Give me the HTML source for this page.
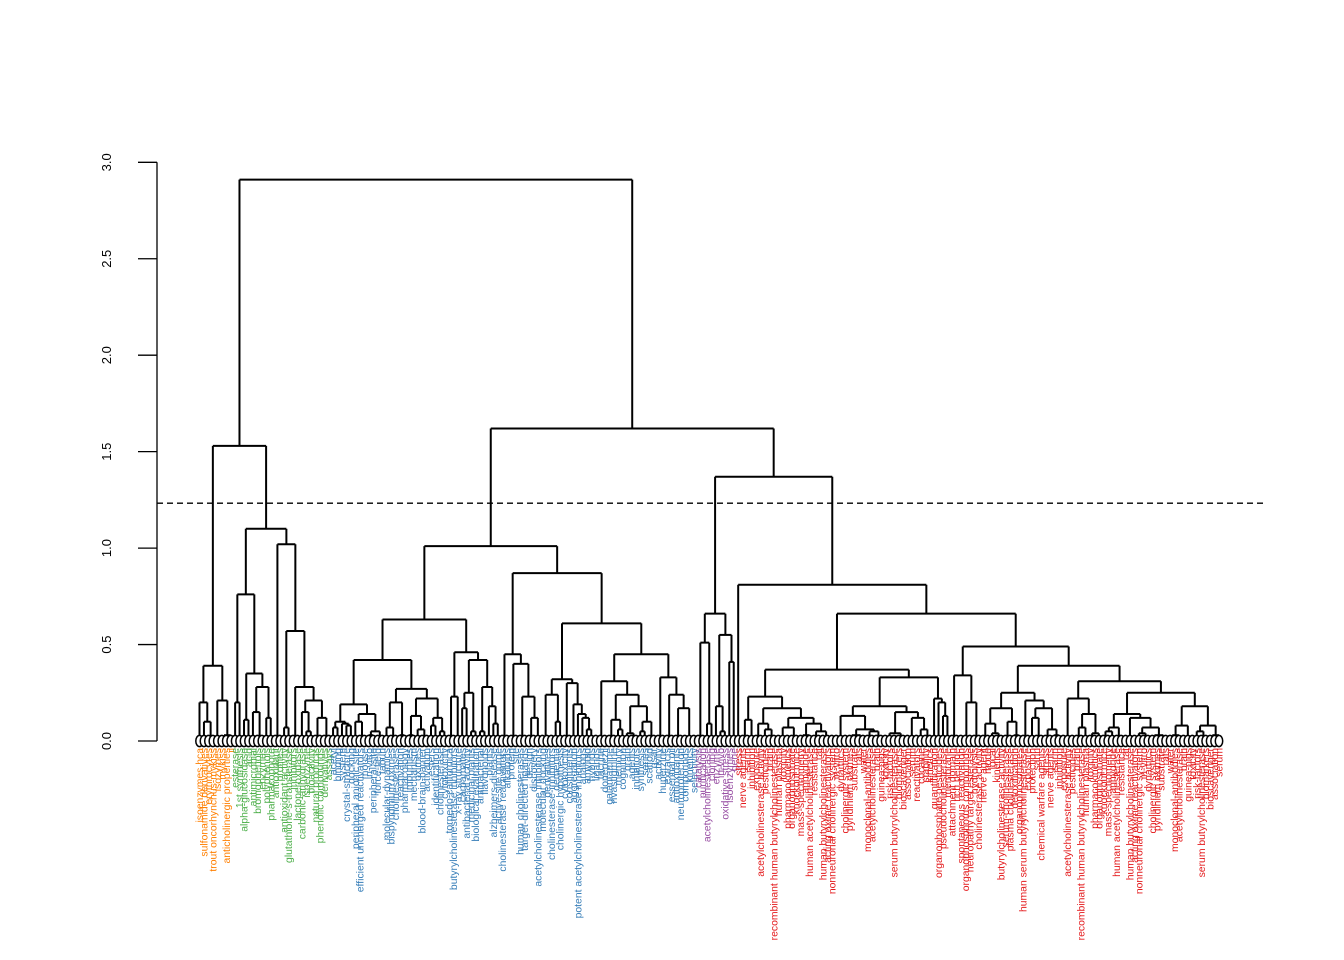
<!DOCTYPE html>
<html><head><meta charset="utf-8">
<style>
html,body{margin:0;padding:0;background:#fff;}
svg{display:block;}
text{font-family:"Liberation Sans",sans-serif;}
</style></head>
<body>
<svg id="chart" width="1344" height="960" viewBox="0 0 1344 960" xmlns="http://www.w3.org/2000/svg"></svg>
<script>
// ---- data: merge heights (nested [height, left, right]); numbers = count of leaves merged near 0 ----
const orangeTree = [0.39,[0.20,1,[0.10,1,2]],[0.21,1,[0.03,2,1]]];
const greenTree = [1.10,
  [0.76,[0.20,1,1],[0.35,[0.11,1,1],[0.28,[0.15,1,2],[0.12,1,1]]]],
  [1.02,2,[0.57,[0.07,1,1],[0.28,2,[0.21,[0.15,1,[0.05,1,1]],[0.12,[0.02,1,1],2]]]]]];
const blueTree = [1.01,
  [0.63,
    [0.42,
      [0.19,[0.10,[0.07,1,1],[0.09,1,[0.08,1,1]]],[0.14,[0.10,1,2],[0.05,[0.03,1,1],2]]],
      [0.27,[0.20,[0.07,1,2],[0.03,1,1]],[0.22,[0.13,[0.03,1,1],[0.06,1,2]],[0.12,[0.08,1,1],[0.05,1,1]]]]],
    [0.46,[0.23,2,1],[0.42,[0.25,[0.17,1,1],[0.05,1,1]],[0.28,[0.05,1,1],[0.18,1,[0.09,1,1]]]]]],
  [0.87,
    [0.45,2,[0.40,2,[0.23,2,[0.12,2,1]]]],
    [0.61,
      [0.32,[0.24,[0.02,1,2],[0.10,1,1]],[0.30,2,[0.19,1,[0.14,1,[0.12,1,[0.06,1,1]]]]]],
      [0.45,
        [0.31,[0.02,2,1],[0.24,[0.11,2,[0.06,1,1]],[0.18,[0.04,1,2],[0.10,[0.05,1,1],2]]]],
        [0.33,2,[0.24,2,[0.17,[0.02,1,1],3]]]]]]];
const purpleTree = [0.66,[0.51,2,[0.09,1,1]],[0.55,[0.18,1,[0.05,1,1]],[0.41,1,1]]];
const redTree = [0.81,1,
  [0.66,
    [0.37,
      [0.23,[0.11,2,1],[0.17,[0.09,2,[0.06,1,2]],[0.12,[0.07,3,2],[0.09,[0.03,2,1],[0.05,2,[0.02,1,2]]]]]],
      [0.33,
        [0.18,[0.13,3,[0.06,[0.03,2,2],[0.05,2,2]]],[0.15,[0.04,3,2],[0.12,3,[0.06,1,2]]]],
        [0.22,1,[0.20,1,[0.13,1,1]]]]],
    [0.49,
      [0.34,2,[0.20,[0.02,2,1],2]],
      [0.39,
        [0.25,[0.17,[0.09,2,[0.04,1,2]],[0.10,2,[0.03,1,1]]],[0.21,2,[0.17,[0.12,1,2],[0.06,2,[0.03,1,1]]]]],
        [0.31,
          [0.22,3,[0.14,[0.07,2,1],[0.04,2,1]]],
          [0.25,
            [0.14,[0.07,[0.05,2,1],2],[0.12,3,[0.07,[0.04,1,2],[0.03,2,2]]]],
            [0.18,[0.08,[0.03,2,1],3],[0.08,[0.05,1,2],[0.03,[0.02,1,1],1]]]]]]]]];
const rootHeights = [2.91, 1.53, 1.62, 1.37];
const cutHeight = 1.233;
const yTicks = [0, 0.5, 1, 1.5, 2, 2.5, 3];
const yTickLabels = ["0.0","0.5","1.0","1.5","2.0","2.5","3.0"];
const groupColors = ["#FF7F00","#4DAF4A","#377EB8","#984EA3","#E41A1C"];
const orangeLabels = ["isoenzymes hca","sulfonamide derivatives","erythrocytes","trout oncorhynchus-mykiss","isozymes","mykiss","anticholinergic properties","ii"];
const greenLabels = ["esterase","1st synthesis","alpha-glucosidase","acid","antimicrobial","bromophenols","enzymes","polyphenols","pharmacophore","antioxidant","profiles","antioxidant activity","glutathione-s-transferase","inhibitors","lactoperoxidase","carbonic-anhydrase","isoenzyme","bioactivity","natural products","phenolic compounds","derivatives","assays"];
const blueLabels = ["acetyl","binding","system","crystal-structure","docking","peripheral anionic site","efficient uncharged reactivators","mouse","in-vitro","peripheral site","force-field","tabun","molecular-dynamics","bispyridinium oximes","cholinesterases","reactivation","pharmacology","impurities","mechanism","oximes","blood-brain-barrier","activation","esters","identification","cholinesterase","cytotoxicity","torpedo-californica","butyrylcholinesterase inhibitors","x-ray structure","carbamates","antibacterial activity","medicinal plants","biological evaluation","antibacterial","flavonoids","plants","alzheimers-disease","active-site gorge","cholinesterase reactivators","alkaloids","protein","site","human cholinesterases","target-directed ligands","design","discovery","acetylcholinesterase inhibitors","molecular docking","derivatives","cholinesterase-inhibitors","dementia","cholinergic hypothesis","cytotoxicity","constituents","aggregation","potent acetylcholinesterase inhibitors","analogs","amyloid","hybrids","ligands","tacrine","donepezil","galantamine","rivastigmine","memory","cognition","brain","agents","inhibitors","synthesis","series","scaffold","qsar","activity","huperzine","extracts","essential oil","antioxidants","neuroprotection","compounds","kinetics","selectivity","beta"];
const purpleLabels = ["catalysis","purification","acetylcholinesterase","cloning","enzyme","in-vivo","oxidative stress","isoenzymes","gene"];
const redLabels = ["stress","nerve agents","sarin","inhibition","exposure","acetylcholinesterase activity","pesticides","brain","recombinant human butyrylcholinesterase","human plasma","toxicity","pharmacokinetics","organophosphate","knockout mice","mass-spectrometry","anhydride","human acetylcholinesterase","resistance","rat","human butyrylcholinesterase","acting oxime reactivators","nonneuronal cholinergic system","in-vitro","dynamics","cholinergic system","pyridinium oximes","substrate","rats","water","monoclonal-antibodies","acetylcholinesterase","brain","guinea-pigs","toxicity","risk-factors","serum butyrylcholinesterase","biomarkers","bioscavenger","association","serum","reactivators","cocaine","stability","kinetics","quantification","organophosphate pesticides","pseudocholinesterase","membrane","attachment domain","rich peptide","spontaneous reactivation","organophosphorus compounds","neuropathy target esterase","hydrolysis","cholinesterase activity","nerve agent","mode","local","kinetics","butyrylcholinesterase activity","serum-cholinesterase","plasma cholinesterase","detoxification","organophosphates","human serum butyrylcholinesterase","exposure","protection","sarin","chemical warfare agents"];

// ---- layout ----
const svgEl = document.getElementById('chart');
const NS = "http://www.w3.org/2000/svg";
const X0 = 199.5, X1 = 1219, Y0 = 741, PXU = 192.9;
const yScale = h => Y0 - h * PXU;
function mk(tag, attrs, parent){ const e=document.createElementNS(NS,tag); for(const k in attrs) e.setAttribute(k,attrs[k]); (parent||svgEl).appendChild(e); return e; }

const groupTrees = [orangeTree, greenTree, blueTree, purpleTree, redTree];
const groupLabels = [orangeLabels, greenLabels, blueLabels, purpleLabels, redLabels];
function countLeaves(t){ return typeof t==='number'? t : countLeaves(t[1])+countLeaves(t[2]); }
const counts = groupTrees.map(countLeaves);
const nLeaves = counts.reduce((a,b)=>a+b,0);
const step = (X1-X0)/(nLeaves-1);
const xScale = i => X0 + i*step;

const gTree = mk('g',{});


const leafList = [];
let leafIdx = 0, curGroup = 0, curLocal = 0;
function seg(x1,y1,x2,y2){
  const l = mk('line',{x1:x1,y1:y1,x2:x2,y2:y2,stroke:'#000','stroke-width':2}, gTree);
  
  
}
function layoutNode(t){
  if (typeof t==='number'){
    const xs=[];
    for(let k=0;k<t;k++){ xs.push(xScale(leafIdx)); leafList.push({x:xScale(leafIdx),g:curGroup,loc:curLocal}); leafIdx++; curLocal++; }
    const cx = xs.reduce((a,b)=>a+b,0)/xs.length;
    if (t>1){ const yy=yScale(0.01); seg(xs[0],yy,xs[xs.length-1],yy); xs.forEach(x=>seg(x,yy,x,Y0)); }
    return {x:cx, h: t>1?0.01:0};
  }
  const a = layoutNode(t[1]), b = layoutNode(t[2]);
  const y = yScale(t[0]);
  seg(a.x,yScale(a.h),a.x,y); seg(b.x,yScale(b.h),b.x,y); seg(a.x,y,b.x,y);
  return {x:(a.x+b.x)/2, h:t[0]};
}
function layoutGroup(gi){ curGroup=gi; curLocal=0; return layoutNode(groupTrees[gi]); }
function joinNodes(h,a,b){ const y=yScale(h); seg(a.x,yScale(a.h),a.x,y); seg(b.x,yScale(b.h),b.x,y); seg(a.x,y,b.x,y); return {x:(a.x+b.x)/2,h:h}; }
const nOrange = layoutGroup(0), nGreen = layoutGroup(1), nBlue = layoutGroup(2), nPurple = layoutGroup(3), nRed = layoutGroup(4);
const nLeftTop = joinNodes(rootHeights[1], nOrange, nGreen);
const nPurpleRed = joinNodes(rootHeights[3], nPurple, nRed);
const nRightTop = joinNodes(rootHeights[2], nBlue, nPurpleRed);
const nRoot = joinNodes(rootHeights[0], nLeftTop, nRightTop);

// leaf circles
const gC = mk('g',{});


leafList.forEach(l=>{
  const c = mk('ellipse',{cx:l.x,cy:Y0,rx:3.7,ry:5.6,fill:'#fff',stroke:'#000','stroke-width':1.5},gC);
  
  
});
// leaf labels
const gL = mk('g',{});


leafList.forEach(l=>{
  const arr = groupLabels[l.g];
  const tx = l.x+3.6, ty = 748;
  const t = mk('text',{x:tx,y:ty,transform:'rotate(-90 '+tx+' '+ty+')','text-anchor':'end','font-size':10.4,fill:groupColors[l.g]},gL);
  t.textContent = arr[l.loc % arr.length];
  
  
});

// y axis
const gA = mk('g',{});


mk('line',{x1:157,y1:yScale(yTicks[0]),x2:157,y2:yScale(yTicks[yTicks.length-1]),stroke:'#000','stroke-width':1.3},gA);
yTicks.forEach((v,i)=>{
  const y=yScale(v);
  const tk = mk('line',{x1:138,y1:y,x2:157,y2:y,stroke:'#000','stroke-width':1.3},gA);
  
  
  const t = mk('text',{x:111,y:y,transform:'rotate(-90 111 '+y+')','text-anchor':'middle','font-size':13,fill:'#000'},gA);
  t.textContent = yTickLabels[i];
  
  
});
// cut line
const cutLine = mk('line',{x1:157,y1:yScale(cutHeight),x2:1265,y2:yScale(cutHeight),stroke:'#000','stroke-width':1.4,'stroke-dasharray':'6,4'});


</script>
</body></html>
